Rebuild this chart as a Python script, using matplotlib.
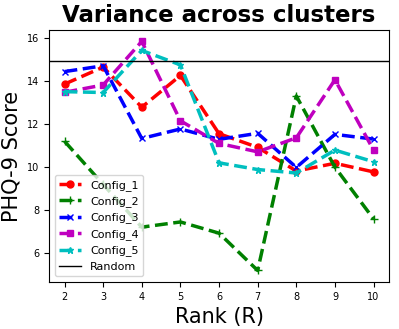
import numpy as np
import matplotlib
matplotlib.use("Agg")
import matplotlib.pyplot as plt

ranks = [2, 3, 4, 5, 6, 7, 8, 9, 10]
config_1 = [13.85, 14.64, 12.78, 14.25, 11.55, 10.92, 9.82, 10.18, 9.78]
config_2 = [11.2, 9.2, 7.22, 7.46, 6.94, 5.21, 13.3, 10.0, 7.6]
config_3 = [14.43, 14.7, 11.33, 11.77, 11.29, 11.57, 9.99, 11.52, 11.3]
config_4 = [13.47, 13.81, 15.83, 12.15, 11.1, 10.71, 11.36, 14.05, 10.79]
config_5 = [13.5, 13.46, 15.41, 14.74, 10.2, 9.89, 9.73, 10.79, 10.25]
random_score = 14.9

fig = plt.figure(figsize=(3.99, 3.29), dpi=100)
ax = fig.add_axes([0.123, 0.143, 0.852, 0.766])

ax.plot(ranks, config_1, "r--", marker="o", lw=2.5, ms=5, label="Config_1")
ax.plot(ranks, config_2, "g--", marker="+", lw=2.5, ms=6, label="Config_2")
ax.plot(ranks, config_3, "b--", marker="x", lw=2.5, ms=5, label="Config_3")
ax.plot(ranks, config_4, "m--", marker="s", lw=2.5, ms=5, label="Config_4")
ax.plot(ranks, config_5, "c--", marker="*", lw=2.5, ms=5, label="Config_5")
ax.axhline(random_score, color="k", lw=1, label="Random")

ax.set_xticks(ranks)
ax.tick_params(labelsize=7)
ax.set_yticks([6, 8, 10, 12, 14, 16])
ax.set_title("Variance across clusters", fontsize=16.5, fontweight="bold")
ax.set_xlabel("Rank (R)", fontsize=15)
ax.set_ylabel("PHQ-9 Score", fontsize=15)
ax.legend(loc="lower left", fontsize=8)

fig.savefig("out.png", dpi=100)
